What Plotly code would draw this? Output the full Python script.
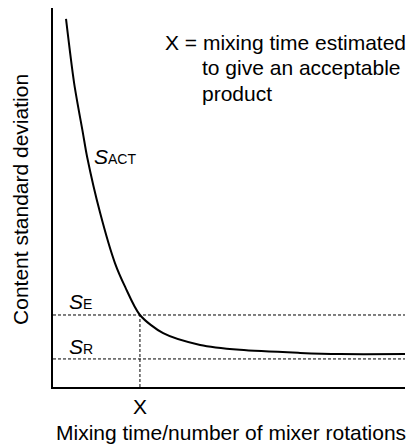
import plotly.graph_objects as go

# S_ACT curve (x: mixing time, y: content std deviation, both 0-100)
mix_time = [3.7, 6.0, 8.5, 9.7, 13.4, 17.6, 20.5, 24.7, 31.3, 41.8, 53.1, 70.2, 81.5, 100]
s_act = [97.1, 80.2, 67.0, 60.7, 45.9, 32.7, 26.4, 19.0, 14.2, 11.1, 9.8, 9.0, 8.7, 8.7]

s_e = 19.0
s_r = 7.4
x_accept = 24.7

note_lines = ["X = mixing time estimated", "to give an acceptable", "product"]

FONT = "Liberation Sans, Arial, Helvetica, sans-serif"
SUB = "<span style='font-size:14px'>%s</span>"

fig = go.Figure()
fig.add_trace(
    go.Scatter(
        x=mix_time,
        y=s_act,
        mode="lines",
        line=dict(color="black", width=2, shape="spline", smoothing=0.8),
        hoverinfo="skip",
    )
)

dash = dict(color="black", width=1, dash="3px,2px")
fig.add_shape(type="line", x0=0, x1=100, y0=s_e, y1=s_e, line=dash)
fig.add_shape(type="line", x0=0, x1=100, y0=s_r, y1=s_r, line=dash)
fig.add_shape(type="line", x0=x_accept, x1=x_accept, y0=0, y1=s_e, line=dash)

# note in the top right, one line per annotation
for i, (line, x0) in enumerate(zip(note_lines, [0.3125, 0.4176, 0.4176])):
    fig.add_annotation(
        x=x0, y=0.9077 - i * 0.066, xref="paper", yref="paper",
        xanchor="left", yanchor="middle",
        text=line, showarrow=False, font=dict(size=21),
    )

fig.add_annotation(
    x=11, y=60.7, xanchor="left", yanchor="middle",
    text="<i>S</i>" + SUB % "ACT", showarrow=False, font=dict(size=21),
)
fig.add_annotation(
    x=4, y=s_e + 3.6, xanchor="left", yanchor="middle",
    text="<i>S</i>" + SUB % "E", showarrow=False, font=dict(size=21),
)
fig.add_annotation(
    x=4, y=s_r + 3.4, xanchor="left", yanchor="middle",
    text="<i>S</i>" + SUB % "R", showarrow=False, font=dict(size=21),
)
# axis titles
fig.add_annotation(
    x=0.505, y=-0.121, xref="paper", yref="paper", xanchor="center", yanchor="middle",
    text="Mixing time/number of mixer rotations", showarrow=False, font=dict(size=21),
)
fig.add_annotation(
    x=-0.094, y=0.496, xref="paper", yref="paper", xanchor="center", yanchor="middle",
    text="Content standard deviation", showarrow=False, textangle=-90, font=dict(size=21),
)

fig.update_layout(
    width=411,
    height=446,
    margin=dict(l=53, r=6, t=8, b=59, autoexpand=False),
    paper_bgcolor="white",
    plot_bgcolor="white",
    showlegend=False,
    font=dict(family=FONT, color="black", size=21),
    xaxis=dict(
        range=[0, 100], automargin=False,
        showline=True, linecolor="black", linewidth=1.5,
        showgrid=False, zeroline=False,
        tickvals=[x_accept], ticktext=["X"], ticks="",
        tickfont=dict(size=21),
    ),
    yaxis=dict(
        range=[0, 100], automargin=False,
        showline=True, linecolor="black", linewidth=1.5,
        showgrid=False, zeroline=False,
        showticklabels=False, ticks="",
    ),
)

fig.write_html(
    "out.html",
    config={"displayModeBar": False},
    post_script="document.body.style.margin='0px';",
)
